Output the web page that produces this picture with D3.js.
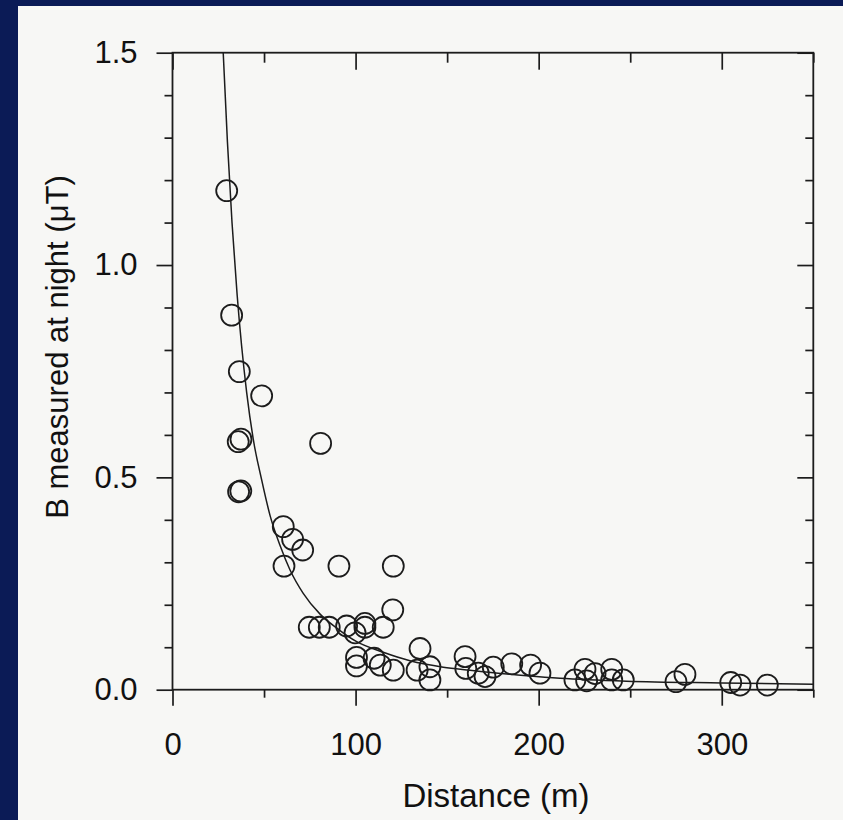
<!DOCTYPE html>
<html>
<head>
<meta charset="utf-8">
<script src="https://cdn.jsdelivr.net/npm/d3@7"></script>
<style>
  body { margin: 0; background: #0b1b56; }
  svg { display: block; }
  .axis text { font-family: "Liberation Sans", Arial, sans-serif; font-size: 31px; fill: #111; }
  .axis line { stroke: #1c1c1c; stroke-width: 1.7; }
  .title { font-family: "Liberation Sans", Arial, sans-serif; fill: #111; }
</style>
</head>
<body>
<svg id="chart"></svg>
<script>
// measured points: distance (m) and night field (uT)
const distance = [29.6, 32.3, 36.5, 48.7, 35.9, 37.4, 80.9, 36.1, 37.3, 60.5,
    65.6, 71.1, 60.9, 90.9, 120.6, 120.3, 74.7, 80.2, 85.6, 95.1,
    99.7, 105.1, 105.1, 115.1, 100.5, 100.5, 110.1, 113.5, 120.6, 135.2,
    133.6, 140.6, 140.6, 159.8, 160.2, 167.0, 170.7, 175.2, 185.3, 195.6,
    200.7, 219.8, 225.3, 226.2, 230.8, 239.9, 239.9, 246.2, 275.0, 279.9,
    304.9, 310.0, 324.9];
const field = [1.175, 0.882, 0.749, 0.692, 0.584, 0.590, 0.580, 0.466, 0.468, 0.384,
    0.354, 0.329, 0.291, 0.291, 0.291, 0.188, 0.147, 0.147, 0.147, 0.150,
    0.134, 0.147, 0.156, 0.147, 0.076, 0.056, 0.074, 0.058, 0.046, 0.097,
    0.046, 0.054, 0.023, 0.078, 0.050, 0.039, 0.031, 0.053, 0.061, 0.058,
    0.039, 0.023, 0.048, 0.021, 0.038, 0.048, 0.023, 0.023, 0.019, 0.036,
    0.017, 0.011, 0.011];

// fitted curve
const fitDistance = [27.7, 30, 32.5, 35.3, 40.5, 44.1, 48.7, 53.3, 58.7, 64.2,
    71.4, 80.6, 89.7, 100.6, 115.1, 129.7, 147.9, 162.5, 193.5, 211.6,
    248, 300, 350];
const fitField = [1.5, 1.29, 1.10, 0.93, 0.70, 0.59, 0.494, 0.41, 0.34, 0.282,
    0.227, 0.178, 0.145, 0.113, 0.088, 0.068, 0.053, 0.046, 0.033, 0.027,
    0.020, 0.016, 0.013];

const xMajorTicks = [0, 100, 200, 300];
const xMinorTicks = [50, 150, 250, 350];
const yMajorTicks = [0, 0.5, 1.0, 1.5];
const yMinorTicks = [0.1, 0.2, 0.3, 0.4, 0.6, 0.7, 0.8, 0.9, 1.1, 1.2, 1.3, 1.4];

const xLabel = 'Distance (m)';
const yLabel = 'B measured at night (\u03bcT)';

class FieldChart {

    constructor(_config) {
        this.config = {
            parentElement: _config.parentElement,
            containerWidth: 843,
            containerHeight: 820,
            left: 172.5,
            right: 813.3,
            top: 52.7,
            bottom: 689.7
        };
        this.initVis();
    }

    initVis() {
        let vis = this;
        const c = vis.config;

        vis.svg = d3.select(c.parentElement)
            .attr('width', c.containerWidth)
            .attr('height', c.containerHeight);

        // paper
        vis.svg.append('rect')
            .attr('x', 18).attr('y', 6)
            .attr('width', c.containerWidth - 18)
            .attr('height', c.containerHeight - 6)
            .attr('fill', '#f7f7f5');

        vis.xScale = d3.scaleLinear().domain([0, 350]).range([c.left, c.right]);
        vis.yScale = d3.scaleLinear().domain([0, 1.5]).range([c.bottom, c.top]);

        vis.svg.append('clipPath').attr('id', 'plot-clip')
            .append('rect')
            .attr('x', c.left).attr('y', c.top)
            .attr('width', c.right - c.left)
            .attr('height', c.bottom - c.top);

        vis.renderAxes();
        vis.renderVis();
    }

    renderAxes() {
        let vis = this;
        const c = vis.config;

        const addAxis = (axis, tx, ty) => {
            vis.svg.append('g')
                .attr('class', 'axis')
                .attr('transform', `translate(${tx},${ty})`)
                .call(axis)
                .call(g => g.select('.domain').remove());
        };

        // bottom and left point outward, top and right inward
        addAxis(d3.axisBottom(vis.xScale).tickValues(xMajorTicks).tickSize(16).tickPadding(27), 0, c.bottom);
        addAxis(d3.axisBottom(vis.xScale).tickValues(xMinorTicks).tickSize(8).tickFormat(''), 0, c.bottom);
        addAxis(d3.axisLeft(vis.yScale).tickValues(yMajorTicks).tickSize(16).tickPadding(19)
            .tickFormat(d3.format('.1f')), c.left, 0);
        addAxis(d3.axisLeft(vis.yScale).tickValues(yMinorTicks).tickSize(8).tickFormat(''), c.left, 0);
        addAxis(d3.axisTop(vis.xScale).tickValues(xMajorTicks).tickSize(-17).tickFormat(''), 0, c.top);
        addAxis(d3.axisTop(vis.xScale).tickValues(xMinorTicks).tickSize(-10).tickFormat(''), 0, c.top);
        addAxis(d3.axisRight(vis.yScale).tickValues(yMajorTicks).tickSize(-16).tickFormat(''), c.right, 0);
        addAxis(d3.axisRight(vis.yScale).tickValues(yMinorTicks).tickSize(-8).tickFormat(''), c.right, 0);

        vis.svg.append('rect')
            .attr('x', c.left).attr('y', c.top)
            .attr('width', c.right - c.left)
            .attr('height', c.bottom - c.top)
            .attr('fill', 'none')
            .attr('stroke', '#1c1c1c')
            .attr('stroke-width', 1.8);

        vis.svg.append('text')
            .attr('class', 'title')
            .attr('x', (c.left + c.right) / 2 + 3)
            .attr('y', 807)
            .attr('text-anchor', 'middle')
            .attr('font-size', 33)
            .text(xLabel);

        vis.svg.append('text')
            .attr('class', 'title')
            .attr('transform', 'translate(68,347) rotate(-90)')
            .attr('text-anchor', 'middle')
            .attr('font-size', 31)
            .text(yLabel);
    }

    renderVis() {
        let vis = this;

        const line = d3.line()
            .x(i => vis.xScale(fitDistance[i]))
            .y(i => vis.yScale(fitField[i]))
            .curve(d3.curveMonotoneX);

        vis.svg.append('path')
            .datum(d3.range(fitDistance.length))
            .attr('clip-path', 'url(#plot-clip)')
            .attr('fill', 'none')
            .attr('stroke', '#1c1c1c')
            .attr('stroke-width', 1.5);

        vis.svg.select('path[clip-path]').attr('d', line);

        vis.svg.selectAll('.pt')
            .data(d3.range(distance.length))
            .join('circle')
            .attr('class', 'pt')
            .attr('cx', i => vis.xScale(distance[i]))
            .attr('cy', i => vis.yScale(field[i]))
            .attr('r', 10.5)
            .attr('fill', 'none')
            .attr('stroke', '#1c1c1c')
            .attr('stroke-width', 1.8);
    }
}

new FieldChart({ parentElement: '#chart' });
</script>
</body>
</html>
